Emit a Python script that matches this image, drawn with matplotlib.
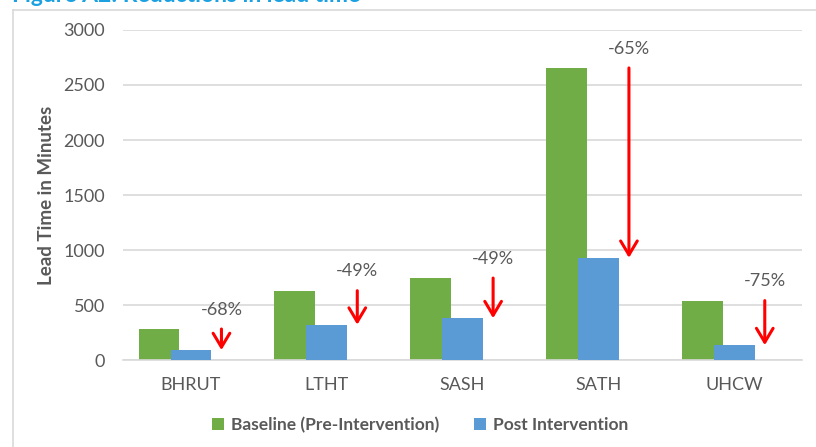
import matplotlib
matplotlib.use("Agg")
import matplotlib.pyplot as plt
import numpy as np
from matplotlib.lines import Line2D

sites = ['BHRUT', 'LTHT', 'SASH', 'SATH', 'UHCW']
baseline = [282, 630, 745, 2655, 540]
post = [90, 321, 380, 929, 135]
reduction = ['-68%', '-49%', '-49%', '-65%', '-75%']

plt.rcParams['font.family'] = ['Lato', 'DejaVu Sans']
grey = '#595959'

fig = plt.figure(figsize=(8.16, 4.47), dpi=100)
ax = fig.add_axes([0.1507, 0.1946, 0.983 - 0.1507, 0.9329 - 0.1946])

x = np.arange(len(sites))
offset = 0.235
width = 0.3
ax.bar(x - offset, baseline, width, color='#70AD47', label='Baseline (Pre-Intervention)', zorder=2)
ax.bar(x, post, width, color='#5B9BD5', label='Post Intervention', zorder=3)

# red arrows from baseline down to post level, with the % change above
ax_x = x + 0.225
for i in range(len(sites)):
    ax.annotate('', xy=(ax_x[i], post[i]), xytext=(ax_x[i], baseline[i]),
                arrowprops=dict(arrowstyle='->, head_length=0.5, head_width=0.3', color='red', lw=2.2,
                                shrinkA=0, shrinkB=0, mutation_scale=20), zorder=4)
    ax.annotate(reduction[i], xy=(ax_x[i], baseline[i]), xytext=(0, 14),
                textcoords='offset points', ha='center', va='center', fontsize=13, color=grey)

ax.set_xlim(-0.5, len(sites) - 0.5)
ax.set_ylim(0, 3000)
ax.set_yticks(np.arange(0, 3001, 500))
ax.set_xticks(x)
ax.set_xticklabels(sites)
ax.yaxis.grid(True, color='#D9D9D9', lw=1.2, zorder=0)
ax.set_axisbelow(True)
for s in ['top', 'right', 'left']:
    ax.spines[s].set_visible(False)
ax.spines['bottom'].set_color('#D9D9D9')
ax.spines['bottom'].set_linewidth(1.2)
ax.tick_params(length=0, labelsize=13, colors=grey)
ax.tick_params(axis='x', pad=12)
ax.tick_params(axis='y', pad=13)
ax.set_ylabel('Lead Time in Minutes', fontsize=13.5, fontweight='bold', color=grey, labelpad=6)

leg = fig.legend(loc='center', bbox_to_anchor=(0.515, 1 - 425 / 447), ncol=2, frameon=False,
                 handlelength=0.7, handleheight=0.7, handletextpad=0.4, columnspacing=2.0,
                 prop={'size': 12.5, 'weight': 'bold'})
for t in leg.get_texts():
    t.set_color(grey)

# chart frame and clipped caption
fig.add_artist(Line2D([13 / 816, 13 / 816], [0, 1 - 10 / 447], color='#D9D9D9', lw=1.2))
fig.add_artist(Line2D([13 / 816, 1], [1 - 10 / 447, 1 - 10 / 447], color='#D9D9D9', lw=1.2))
fig.text(12 / 816, 1 - 2 / 447, 'Figure A2: Reductions in lead time', fontsize=16.5, fontweight='bold',
         color='#1BA1E2', va='baseline', ha='left')

fig.savefig('out.png', dpi=100)
